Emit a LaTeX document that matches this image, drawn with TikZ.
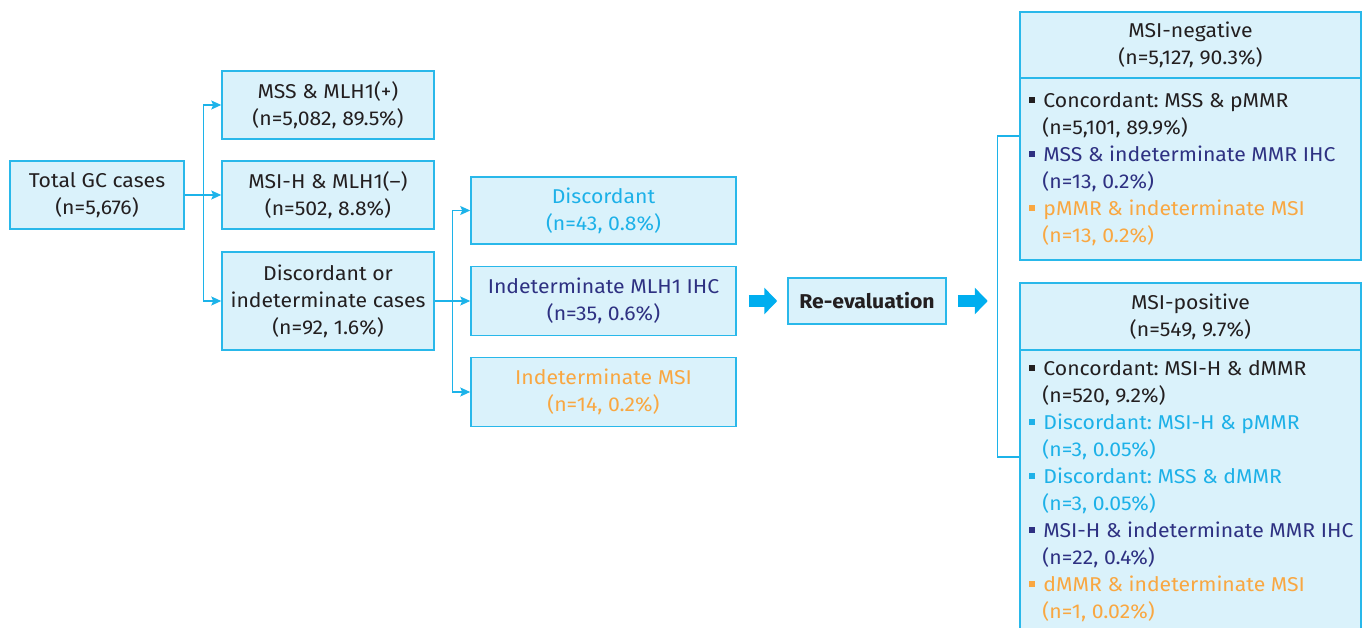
\documentclass[tikz,border=0pt]{standalone}
\usepackage{fontspec}
\setmainfont{Fira Sans}[FakeStretch=1.06]
\usetikzlibrary{arrows.meta,calc}
\definecolor{boxfill}{HTML}{DAF2FB}
\definecolor{boxline}{HTML}{29B8EA}
\definecolor{arrcol}{HTML}{1CB3E9}
\definecolor{bigarr}{HTML}{00AEEF}
\definecolor{tcyan}{HTML}{1DB1E8}
\definecolor{tnavy}{HTML}{2E3182}
\definecolor{torange}{HTML}{F9A741}
\definecolor{tblack}{HTML}{231F20}
\newcommand\bul[1]{\textcolor{#1}{\rule[0.22em]{6pt}{6pt}}\hspace{8pt}}
\tikzset{
  txt/.style={inner sep=0pt, align=center, text=tblack, font=\fontsize{20}{27}\selectfont\frenchspacing},
  box/.style={txt, draw=boxline, fill=boxfill, line width=1.5pt},
  arr/.style={draw=arrcol, line width=1.4pt, -{Stealth[length=10pt,width=9pt,inset=2pt]}},
  conn/.style={draw=arrcol, line width=1.4pt},
  bigarrow/.style={draw=bigarr, line width=12pt, -{Triangle[length=13pt,width=26pt]}},
}
\begin{document}
\begin{tikzpicture}[x=1pt,y=-1pt]
\useasboundingbox (0,0) rectangle (1366,628);
\clip (0,0) rectangle (1366,628);

\node[box, minimum width=174pt, minimum height=68pt] (total) at (97,195) {Total GC cases\\(n=5,676)};
\node[box, minimum width=212pt, minimum height=68pt] (mss) at (328,105) {MSS \& MLH1(+)\\(n=5,082, 89.5\%)};
\node[box, minimum width=212pt, minimum height=68pt] (msih) at (328,195) {MSI-H \& MLH1(–)\\(n=502, 8.8\%)};
\node[box, minimum width=212pt, minimum height=98pt] (disc) at (328,301) {Discordant or\\indeterminate cases\\(n=92, 1.6\%)};

\node[box, minimum width=265pt, minimum height=67pt, text=tcyan] (d2) at (603.5,210.5) {Discordant\\(n=43, 0.8\%)};
\node[box, minimum width=265pt, minimum height=69pt, text=tnavy] (imlh) at (603.5,301) {Indeterminate MLH1 IHC\\(n=35, 0.6\%)};
\node[box, minimum width=265pt, minimum height=69pt, text=torange] (imsi) at (603.5,392) {Indeterminate MSI\\(n=14, 0.2\%)};

\node[box, minimum width=158pt, minimum height=46pt, font=\fontsize{20}{27}\selectfont\bfseries] (reeval) at (867,301) {Re-evaluation};

\node[box, minimum width=341pt, minimum height=66pt] (neghead) at (1190.5,45) {MSI-negative\\(n=5,127, 90.3\%)};
\node[box, minimum width=341pt, minimum height=182pt] (negbody) at (1190.5,169) {};
\node[txt, anchor=west, align=left] (negtext) at ([xshift=10pt]negbody.west)
  {\bul{tblack}Concordant: MSS \& pMMR\\\hspace*{13pt}(n=5,101, 89.9\%)\\
   \textcolor{tnavy}{\bul{tnavy}MSS \& indeterminate MMR IHC}\\\hspace*{13pt}\textcolor{tnavy}{(n=13, 0.2\%)}\\
   \textcolor{torange}{\bul{torange}pMMR \& indeterminate MSI}\\\hspace*{13pt}\textcolor{torange}{(n=13, 0.2\%)}};

\node[box, minimum width=341pt, minimum height=67pt] (poshead) at (1190.5,316.5) {MSI-positive\\(n=549, 9.7\%)};
\node[box, minimum width=341pt, minimum height=282pt] (posbody) at (1190.5,491) {};
\node[txt, anchor=west, align=left] (postext) at ([xshift=10pt]posbody.west)
  {\bul{tblack}Concordant: MSI-H \& dMMR\\\hspace*{13pt}(n=520, 9.2\%)\\
   \textcolor{tcyan}{\bul{tcyan}Discordant: MSI-H \& pMMR}\\\hspace*{13pt}\textcolor{tcyan}{(n=3, 0.05\%)}\\
   \textcolor{tcyan}{\bul{tcyan}Discordant: MSS \& dMMR}\\\hspace*{13pt}\textcolor{tcyan}{(n=3, 0.05\%)}\\
   \textcolor{tnavy}{\bul{tnavy}MSI-H \& indeterminate MMR IHC}\\\hspace*{13pt}\textcolor{tnavy}{(n=22, 0.4\%)}\\
   \textcolor{torange}{\bul{torange}dMMR \& indeterminate MSI}\\\hspace*{13pt}\textcolor{torange}{(n=1, 0.02\%)}};

% first branching
\coordinate (b1) at ($(total.east)+(19,0)$);
\draw[conn] (total.east) -- (b1);
\draw[arr] (b1) |- (mss.west);
\draw[arr] (b1) -- (msih.west);
\draw[arr] (b1) |- (disc.west);

% second branching
\coordinate (b2) at ($(disc.east)+(18,0)$);
\draw[conn] (disc.east) -- (b2);
\draw[arr] (b2) |- (d2.west);
\draw[arr] (b2) -- (imlh.west);
\draw[arr] (b2) |- (imsi.west);

% block arrows
\draw[bigarrow] ([xshift=12pt]imlh.east) -- ([xshift=-10pt]reeval.west);
\draw[bigarrow] ([xshift=11pt]reeval.east) -- ([xshift=41pt]reeval.east);

% bracket
\coordinate (bt) at ([yshift=33pt]negbody.west);
\coordinate (bb) at ([yshift=34pt]posbody.west);
\draw[conn] (bt) -- ++(-22,0) coordinate (btl) -- (btl |- bb) -- (bb);
\end{tikzpicture}
\end{document}
